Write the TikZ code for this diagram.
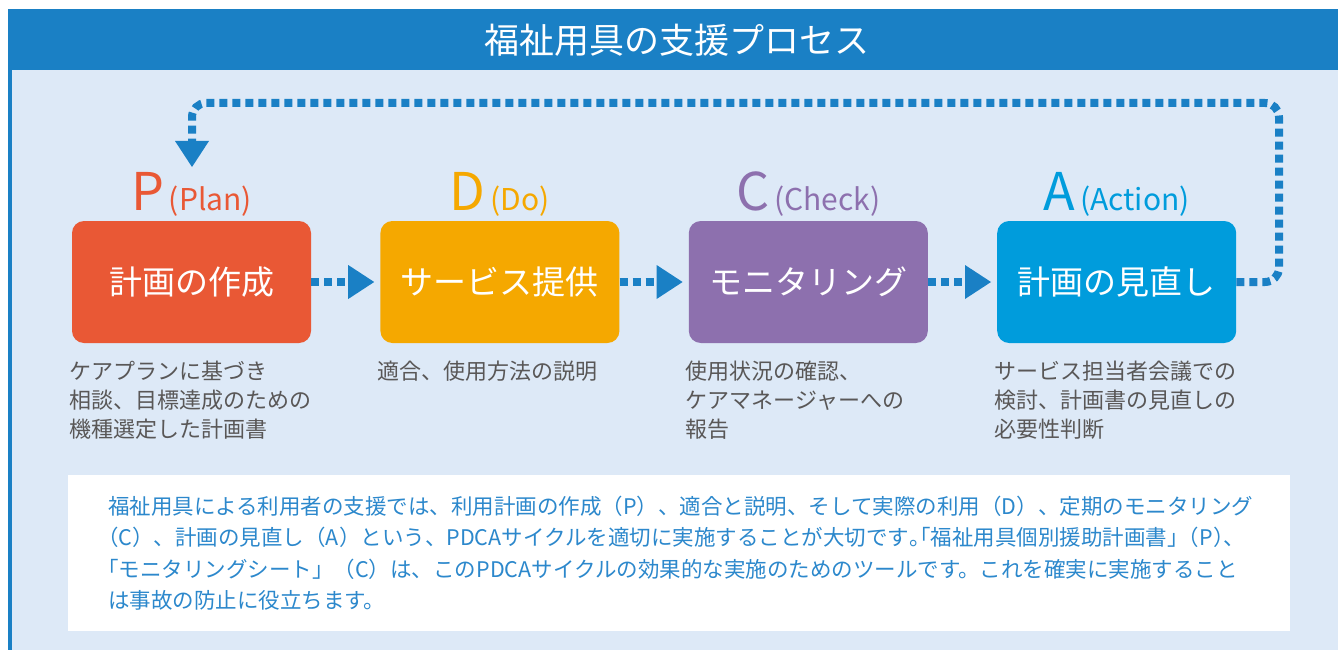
\documentclass[tikz,border=0pt]{standalone}
\usepackage{fontspec}
\setmainfont{Noto Sans CJK JP}
\usetikzlibrary{positioning, arrows.meta}
\usepackage{xcolor}
\definecolor{barblue}{HTML}{1A80C5}
\definecolor{panelbg}{HTML}{DDE9F7}
\definecolor{plancol}{HTML}{E95835}
\definecolor{docol}{HTML}{F5A800}
\definecolor{checkcol}{HTML}{8D70AE}
\definecolor{actcol}{HTML}{009CDC}
\definecolor{desccol}{HTML}{595757}
\definecolor{notecol}{HTML}{2C88CC}
\tikzset{
	x=1pt, y=-1pt,
	node distance=69pt,
	phase/.style={rectangle, rounded corners=12pt, minimum width=239pt, minimum height=122pt, text=white, font=\fontsize{33}{33}\selectfont},
	tag/.style={inner sep=0pt},
	descr/.style={inner sep=0pt, align=left, text=desccol, font=\fontsize{22}{29}\selectfont},
	dots/.style={draw=barblue, line width=8pt, dash pattern=on 8pt off 5pt, -{Triangle[width=34pt, length=26pt, line width=0pt]}},
	notebox/.style={fill=white, minimum width=1222pt, minimum height=156pt, text width=1142pt, inner xsep=40pt, align=left, text=notecol, font=\fontsize{21.5}{31.5}\selectfont}}
\newcommand{\phasetag}[2]{{\fontsize{52}{52}\selectfont #1}\hspace{5pt}{\fontsize{30}{30}\selectfont(#2)}}
% half-width punctuation (keep left or right half of the glyph box)
\newcommand{\hl}[1]{\makebox[0.5em][l]{#1}}
\newcommand{\hr}[1]{\makebox[0.5em][r]{#1}}

\begin{document}
\begin{tikzpicture}
	\useasboundingbox (0,0) rectangle (1338,650);
	
	\fill[panelbg] (8,70) rectangle (1338,650);
	\fill[barblue] (8,9) rectangle (1338,70);
	\fill[barblue] (8,70) rectangle (12,650);
	\node[text=white, font=\fontsize{35}{35}\selectfont] (title) at (677,40) {福祉用具の支援プロセス};
	
	\node[phase, fill=plancol] (plan) at (191.5,282) {計画の作成};
	\node[phase, fill=docol, right=of plan] (do) {サービス提供};
	\node[phase, fill=checkcol, right=of do] (check) {モニタリング};
	\node[phase, fill=actcol, right=of check] (act) {計画の見直し};
	
	\node[tag, text=plancol, above=10pt of plan.north, anchor=base] (plantag) {\phasetag{P}{Plan}};
	\node[tag, text=docol, above=10pt of do.north, anchor=base] (dotag) {\phasetag{D}{Do}};
	\node[tag, text=checkcol, above=10pt of check.north, anchor=base] (checktag) {\phasetag{C}{Check}};
	\node[tag, text=actcol, above=10pt of act.north, anchor=base] (acttag) {\phasetag{A}{Action}};
	
	\node[descr, below=18pt of plan.south west, anchor=north west, xshift=-3pt] (plandesc) {ケアプランに基づき\\相談、目標達成のための\\機種選定した計画書};
	\node[descr, below=18pt of do.south west, anchor=north west, xshift=-3pt] (dodesc) {適合、使用方法の説明};
	\node[descr, below=18pt of check.south west, anchor=north west, xshift=-3pt] (checkdesc) {使用状況の確認、\\ケアマネージャーへの\\報告};
	\node[descr, below=18pt of act.south west, anchor=north west, xshift=-3pt] (actdesc) {サービス担当者会議での\\検討、計画書の見直しの\\必要性判断};
	
	\draw[dots, shorten >=6pt] (plan) -- (do);
	\draw[dots, shorten >=6pt] (do) -- (check);
	\draw[dots, shorten >=6pt] (check) -- (act);
	
	\coordinate (loopup) at (1279,103);
	\coordinate (loopend) at (192,167);
	\draw[dots, rounded corners=14pt] (act.east) -| (loopup) -| (loopend);
	
	\node[notebox] (note) at (679,553) {福祉用具による利用者の支援では、利用計画の作成（P）、適合と説明、そして実際の利用（D）、定期のモニタリング\\\hr{（}C）、計画の見直し（A）という、PDCAサイクルを適切に実施することが大切です\hl{。}\hr{「}福祉用具個別援助計画書」\hr{（}P\hl{）}、\\\hr{「}モニタリングシート」（C）は、このPDCAサイクルの効果的な実施のためのツールです。これを確実に実施すること\\は事故の防止に役立ちます。};
\end{tikzpicture}
\end{document}
